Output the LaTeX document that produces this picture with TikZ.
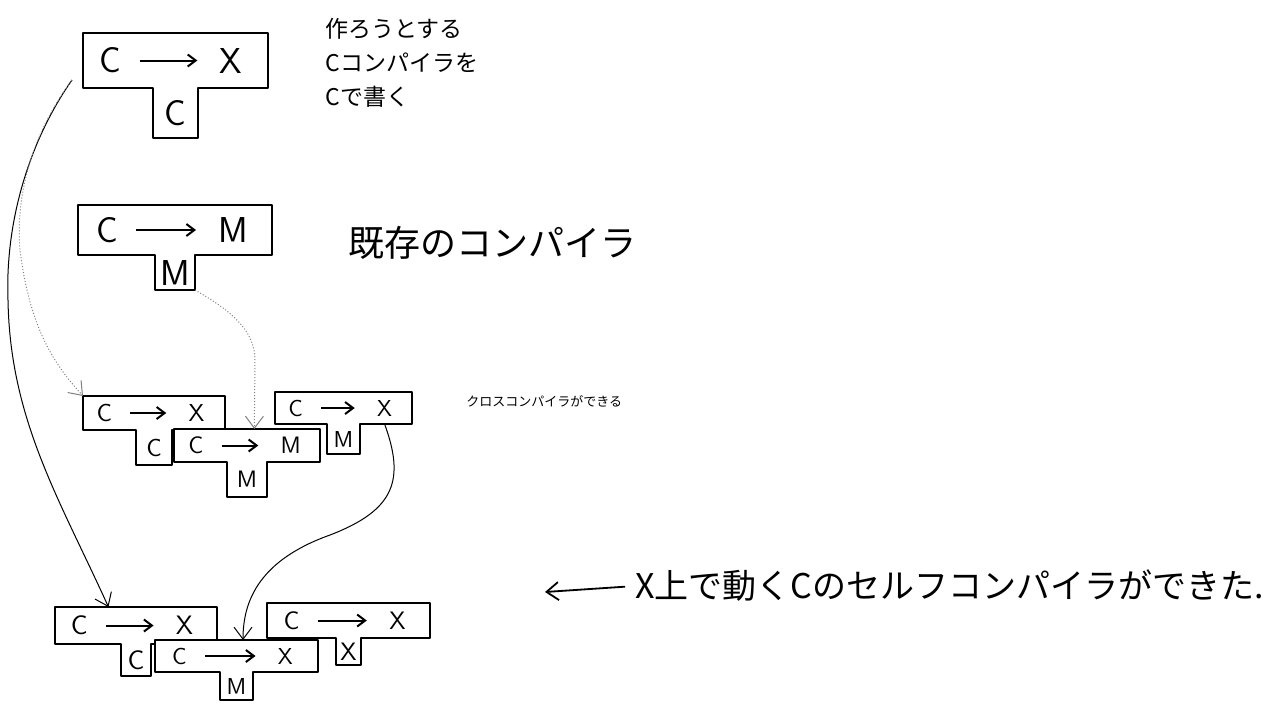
\documentclass[tikz,border=0pt]{standalone}
\usepackage{fontspec}
\newfontfamily\jpfont{Noto Sans CJK JP}
\usetikzlibrary{calc, arrows.meta}

\tikzset{
  tshape/.style={draw, line width=1.2pt, fill=white, line join=round},
  tlabel/.style={inner sep=1pt},
  tarrow/.style={-{Straight Barb[length=4pt,width=6pt]}, line width=1pt, shorten <=8pt, shorten >=10pt},
  link/.style={-{Straight Barb[length=6pt,width=9pt]}, line width=0.5pt},
  faintlink/.style={link, densely dotted, gray},
  note/.style={font=\jpfont, anchor=west, inner sep=0pt},
}

% name, top left of bar, bar width, bar height, stem width, stem height, source, target, implementation
\newcommand{\tdiag}[9]{%
  \pgfmathsetmacro{\tfs}{min(0.36*#4,18)}
  \begin{scope}[shift={(#2)}]
    \draw[tshape] (0,0) -- (#3,0) -- (#3,#4) -- ({(#3+#5)/2},#4) -- ({(#3+#5)/2},{#4+#6})
      -- ({(#3-#5)/2},{#4+#6}) -- ({(#3-#5)/2},#4) -- (0,#4) -- cycle;
    \coordinate (#1-nw) at (0,0);
    \coordinate (#1-ne) at (#3,0);
    \coordinate (#1-sw) at (0,#4);
    \coordinate (#1-se) at (#3,#4);
    \coordinate (#1-stem) at ({(#3+#5)/2},{#4+#6});
    \node[tlabel, font=\sffamily\fontsize{\tfs}{\tfs}\selectfont] (#1-src) at ({0.15*#3},{#4/2}) {#7};
    \node[tlabel, font=\sffamily\fontsize{\tfs}{\tfs}\selectfont] (#1-tgt) at ({0.8*#3},{#4/2}) {#8};
    \node[tlabel, font=\sffamily\fontsize{\tfs}{\tfs}\selectfont] (#1-impl) at ({#3/2},{#4+#6/2}) {#9};
    \draw[tarrow] (#1-src) -- (#1-tgt);
  \end{scope}}

\begin{document}
\begin{tikzpicture}[x=0.5pt,y=-0.5pt]
  \useasboundingbox (0,0) rectangle (1279,709);
  \fill[white] (0,0) rectangle (1279,709);

  % the compiler to be written, and the one we already have
  \tdiag{write}{83,33}{185}{55}{45}{50}{C}{X}{C}
  \tdiag{exist}{78,205}{194}{50}{40}{35}{C}{M}{M}

  % cross compiler
  \tdiag{crossL}{83,396}{142}{34}{36}{35}{C}{X}{C}
  \tdiag{crossM}{174,429}{146}{33}{40}{35}{C}{M}{M}
  \tdiag{crossR}{275,392}{137}{32}{33}{30}{C}{X}{M}

  % self compiler
  \tdiag{selfL}{55,607}{162}{37}{30}{32}{C}{X}{C}
  \tdiag{selfM}{155,640}{163}{32}{33}{28}{C}{X}{M}
  \tdiag{selfR}{267,603}{163}{35}{25}{27}{C}{X}{X}

  \node[note, font=\jpfont\fontsize{11.5}{17}\selectfont, align=left, anchor=north west] (goalnote) at (325,18) {作ろうとする\\Cコンパイラを\\Cで書く};
  \node[note, font=\jpfont\fontsize{18}{18}\selectfont] (existnote) at (348,243) {既存のコンパイラ};
  \node[note, font=\jpfont\fontsize{6.5}{6.5}\selectfont] (crossnote) at (466,401) {クロスコンパイラができる};
  \node[note, font=\jpfont\fontsize{17}{17}\selectfont] (selfnote) at (635,586) {X上で動くCのセルフコンパイラができた.};

  \coordinate (write-tail) at ($(write-sw)+(-11,-8)$);
  \coordinate (selfpoint) at (545,592);

  \draw[link] (write-tail) .. controls (30,140) and (5,220) .. (8,300)
    .. controls (10,420) and (60,500) .. ($(selfL-nw)!0.33!(selfL-ne)$);
  \draw[faintlink] (write-tail) .. controls (35,130) and (15,190) .. (20,250)
    .. controls (30,330) and (55,365) .. (crossL-nw);
  \draw[faintlink] (exist-stem) .. controls (230,310) and (255,330) .. (255,360)
    -- ($(crossM-nw)!0.55!(crossM-ne)$);
  \draw[link] ($(crossR-sw)!0.8!(crossR-se)$) .. controls (405,480) and (395,510) .. (330,535)
    .. controls (260,560) and (243,600) .. ($(selfM-nw)!0.54!(selfM-ne)$);
  \draw[link, line width=0.9pt, shorten <=5pt] (selfnote.west) -- (selfpoint);
\end{tikzpicture}
\end{document}
